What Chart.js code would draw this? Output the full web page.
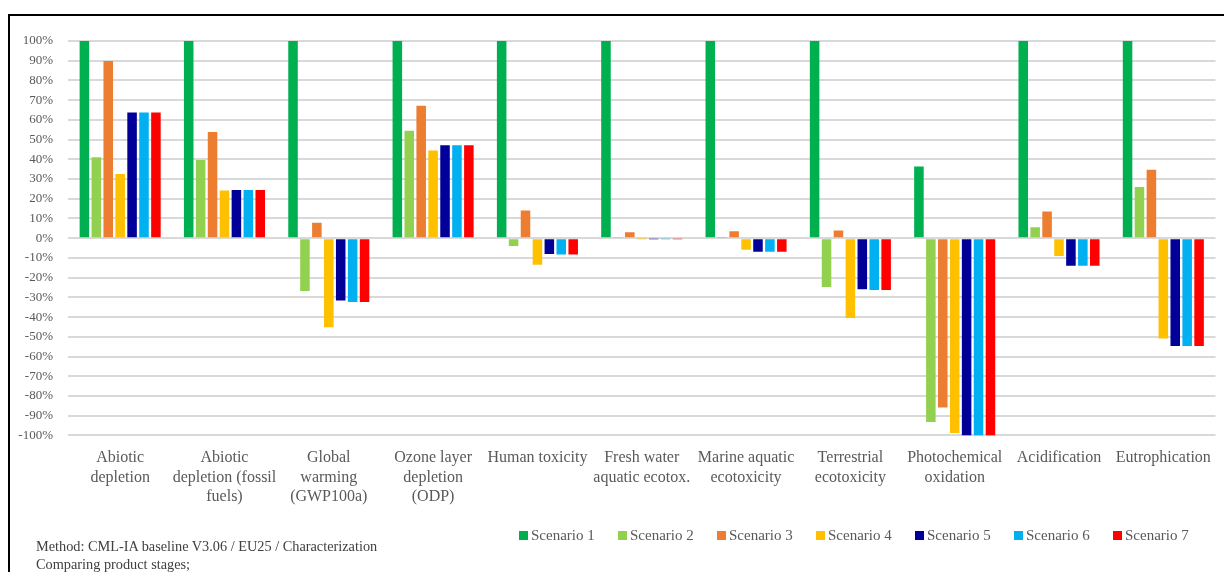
<!DOCTYPE html>
<html>
<head>
<meta charset="utf-8">
<script src="https://cdn.jsdelivr.net/npm/chart.js@4"></script>
<style>
  html, body { margin: 0; padding: 0; background: #fff; }
  #wrap { position: relative; width: 1224px; height: 572px; overflow: hidden; background: #fff; }
  #frame { position: absolute; left: 8px; top: 14px; width: 1240px; height: 600px;
           border-left: 2px solid #000; border-top: 2px solid #000; box-sizing: border-box; }
  #chart { position: absolute; left: 0; top: 0; }
  #legend { position: absolute; left: 519px; top: 527px; display: flex;
            font-family: "Liberation Serif", serif; font-size: 15px; color: #595959; }
  .item { width: 99px; display: flex; align-items: center; white-space: nowrap; }
  .box { width: 9px; height: 9px; margin-right: 3px; }
  #note { position: absolute; left: 36px; top: 537px; font-family: "Liberation Serif", serif;
          font-size: 14.3px; line-height: 18px; color: #404040; }
</style>
</head>
<body>
<div id="wrap">
  <div id="frame"></div>
  <canvas id="chart" width="1224" height="572"></canvas>
  <div id="legend"></div>
  <div id="note">Method: CML-IA baseline V3.06 / EU25 / Characterization<br>Comparing product stages;</div>
</div>
<script>
// Impact categories (multi-line axis labels)
const categories = [
  ["Abiotic", "depletion"],
  ["Abiotic", "depletion (fossil", "fuels)"],
  ["Global", "warming", "(GWP100a)"],
  ["Ozone layer", "depletion", "(ODP)"],
  "Human toxicity",
  ["Fresh water", "aquatic ecotox."],
  ["Marine aquatic", "ecotoxicity"],
  ["Terrestrial", "ecotoxicity"],
  ["Photochemical", "oxidation"],
  "Acidification",
  "Eutrophication"
];

// Characterization results, % relative to the largest scenario per category
const scenario1 = [100, 100, 100, 100, 100, 100, 100, 100, 36.4, 100, 100];
const scenario2 = [41, 39.7, -26.7, 54.5, -3.9, 0.4, 0.3, -24.7, -93.2, 5.6, 26];
const scenario3 = [89.8, 53.8, 7.8, 67.2, 14, 3, 3.5, 3.9, -85.8, 13.5, 34.7];
const scenario4 = [32.5, 24.2, -45.2, 44.5, -13.5, -0.1, -5.9, -40.4, -98.8, -9, -50.9];
const scenario5 = [63.8, 24.5, -31.6, 47.2, -8, -0.3, -6.8, -25.9, -100, -13.9, -54.7];
const scenario6 = [63.8, 24.4, -32.3, 47.2, -8.2, -0.3, -6.8, -26.2, -100, -13.9, -54.7];
const scenario7 = [63.8, 24.4, -32.3, 47.2, -8.2, -0.3, -6.8, -26.2, -100, -13.9, -54.7];

const seriesNames = ["Scenario 1", "Scenario 2", "Scenario 3", "Scenario 4", "Scenario 5", "Scenario 6", "Scenario 7"];
const seriesValues = [scenario1, scenario2, scenario3, scenario4, scenario5, scenario6, scenario7];
const seriesColors = ["#00B050", "#92D050", "#ED7D31", "#FFC000", "#000099", "#00B0F0", "#FF0000"];

// y-axis range and step
const yMin = -100, yMax = 100, yStep = 10;

const datasets = seriesNames.map((name, i) => ({
  label: name,
  data: seriesValues[i],
  backgroundColor: seriesColors[i],
  borderWidth: 0,
  categoryPercentage: 0.8,
  barPercentage: 0.8
}));

const serif = "'Liberation Serif', serif";

new Chart(document.getElementById("chart"), {
  type: "bar",
  data: { labels: categories, datasets },
  options: {
    responsive: false,
    animation: false,
    events: [],
    layout: { padding: { top: 41, right: 3, bottom: 52, left: 0 } },
    plugins: { legend: { display: false }, tooltip: { enabled: false } },
    scales: {
      x: {
        grid: { display: false, drawTicks: false },
        border: { display: false },
        ticks: {
          color: "#595959",
          padding: 13,
          maxRotation: 0,
          autoSkip: false,
          font: { family: serif, size: 16, lineHeight: 1.22 }
        }
      },
      y: {
        min: yMin, max: yMax,
        afterFit(scale) { scale.width = 68; },
        grid: { color: "#d9d9d9", lineWidth: 2, drawTicks: false },
        border: { display: false },
        ticks: {
          stepSize: yStep,
          padding: 15,
          color: "#595959",
          font: { family: serif, size: 13 },
          callback: v => v + "%"
        }
      }
    }
  }
});

// Legend row built from the same series
const legend = document.getElementById("legend");
seriesNames.forEach((name, i) => {
  const item = document.createElement("div");
  item.className = "item";
  const box = document.createElement("span");
  box.className = "box";
  box.style.background = seriesColors[i];
  const txt = document.createElement("span");
  txt.textContent = name;
  item.appendChild(box);
  item.appendChild(txt);
  legend.appendChild(item);
});
</script>
</body>
</html>
